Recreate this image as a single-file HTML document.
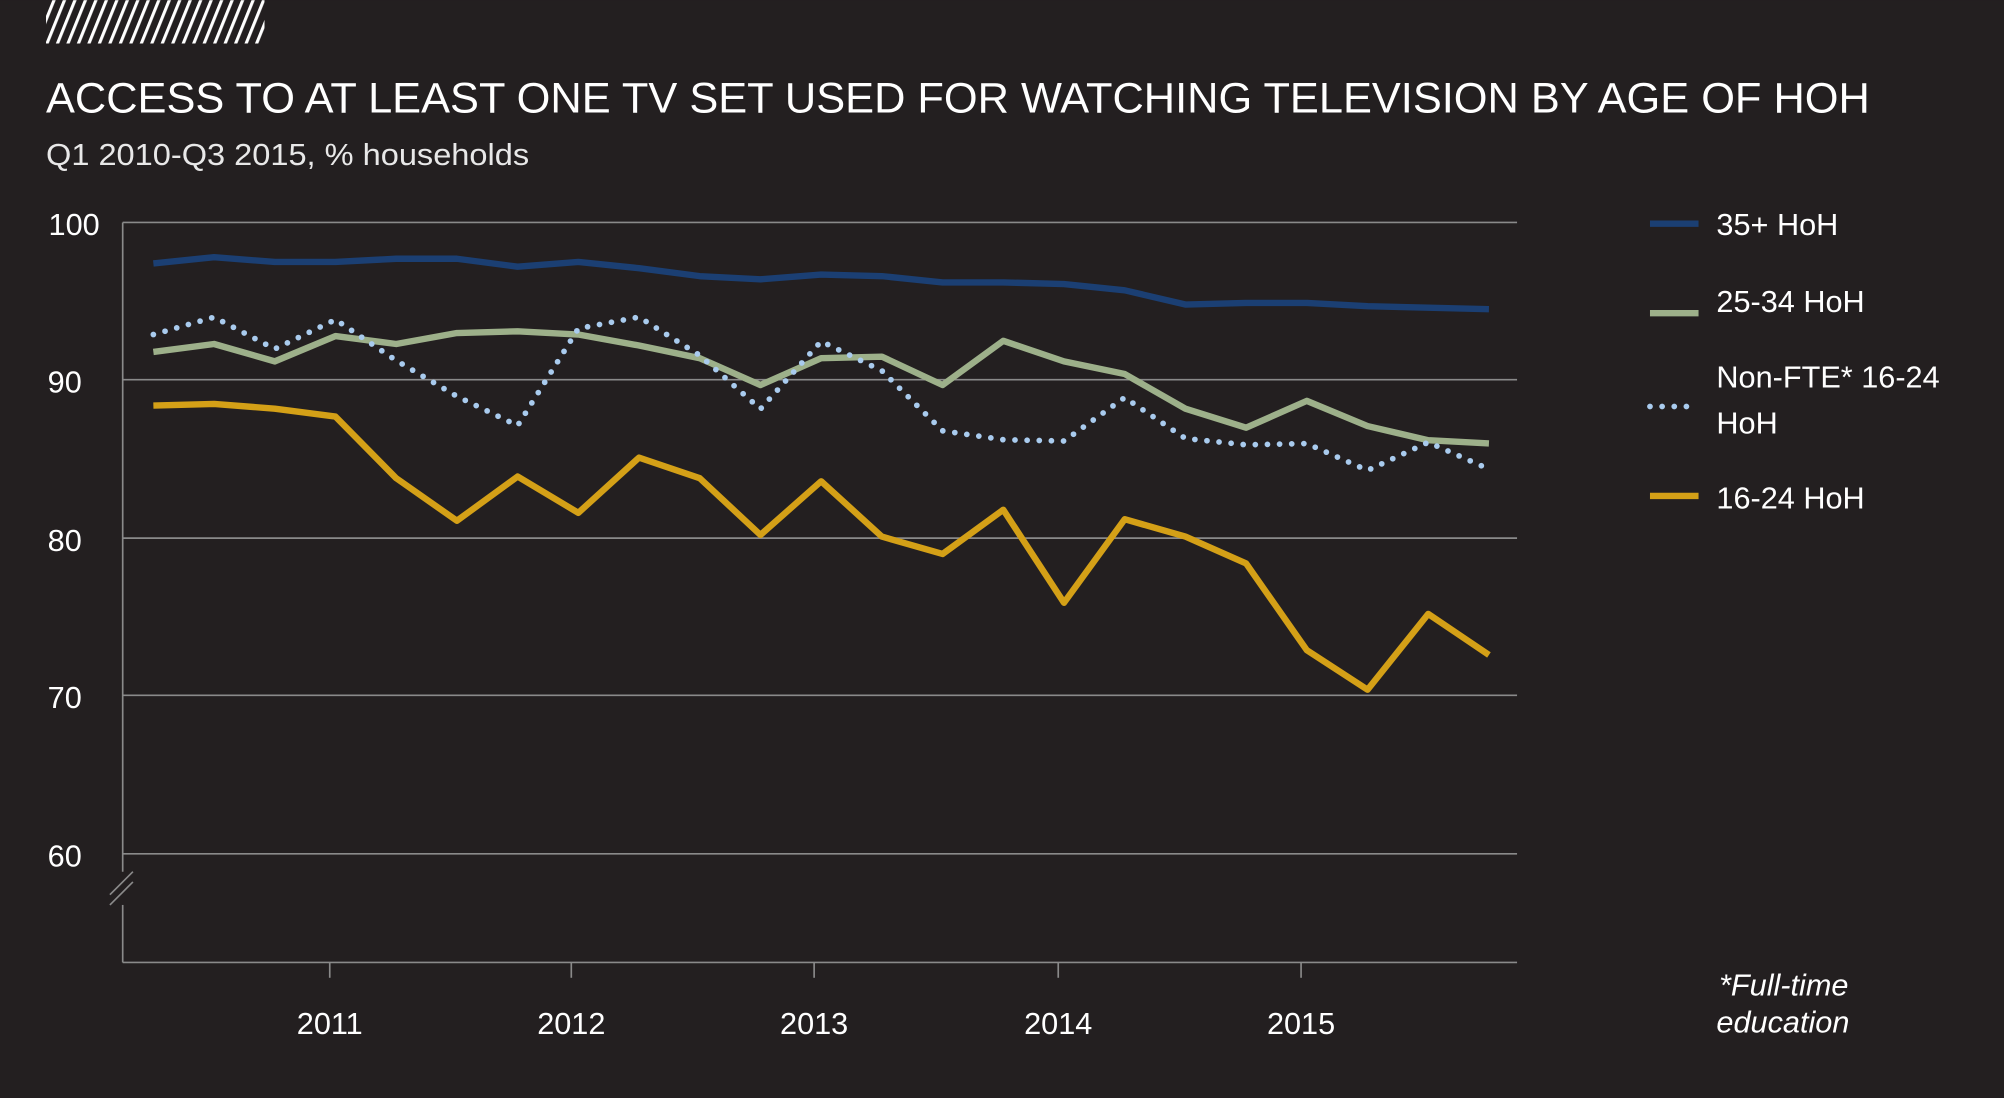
<!DOCTYPE html>
<html><head><meta charset="utf-8"><style>
html,body{margin:0;padding:0;background:#231f20;}
svg{display:block;}
text{font-family:"Liberation Sans",sans-serif;}
</style></head><body>
<svg width="2004" height="1098" viewBox="0 0 1568 859" xmlns="http://www.w3.org/2000/svg">
<defs>
<pattern id="h" width="8.2" height="34" patternUnits="userSpaceOnUse" patternTransform="skewX(-22)">
<rect x="0" y="0" width="2.6" height="34" fill="#fff"/>
</pattern>
<clipPath id="hc"><rect x="36" y="0" width="171" height="34"/></clipPath>
</defs>
<rect width="1568" height="859" fill="#231f20"/>
<rect x="36" y="0" width="171" height="34" fill="url(#h)" clip-path="url(#hc)"/>
<text x="36" y="88" font-size="33" fill="#fff" textLength="1427" lengthAdjust="spacingAndGlyphs">ACCESS TO AT LEAST ONE TV SET USED FOR WATCHING TELEVISION BY AGE OF HOH</text>
<text x="36" y="129" font-size="24" fill="#e8e8e8" textLength="378" lengthAdjust="spacingAndGlyphs">Q1 2010-Q3 2015, % households</text>
<g stroke="#8a8a8a" stroke-width="1.3">
<line x1="96" y1="174" x2="1187" y2="174"/>
<line x1="96" y1="297" x2="1187" y2="297"/>
<line x1="96" y1="421" x2="1187" y2="421"/>
<line x1="96" y1="544" x2="1187" y2="544"/>
<line x1="96" y1="668" x2="1187" y2="668"/>
<line x1="96" y1="753" x2="1187" y2="753"/>
<line x1="96" y1="174" x2="96" y2="682"/>
<line x1="96" y1="708" x2="96" y2="753"/>
<line x1="86" y1="700" x2="104" y2="682"/>
<line x1="86" y1="708" x2="104" y2="690"/>
<line x1="258" y1="753" x2="258" y2="765"/>
<line x1="447" y1="753" x2="447" y2="765"/>
<line x1="637" y1="753" x2="637" y2="765"/>
<line x1="828" y1="753" x2="828" y2="765"/>
<line x1="1018" y1="753" x2="1018" y2="765"/>
</g>
<g font-size="24" fill="#fff">
<text x="78" y="184" text-anchor="end">100</text>
<text x="64" y="307" text-anchor="end">90</text>
<text x="64" y="431" text-anchor="end">80</text>
<text x="64" y="554" text-anchor="end">70</text>
<text x="64" y="678" text-anchor="end">60</text>
<text x="258" y="809" text-anchor="middle">2011</text>
<text x="447" y="809" text-anchor="middle">2012</text>
<text x="637" y="809" text-anchor="middle">2013</text>
<text x="828" y="809" text-anchor="middle">2014</text>
<text x="1018" y="809" text-anchor="middle">2015</text>
</g>
<g fill="none" stroke-linejoin="round">
<polyline stroke="#1b3f73" stroke-width="5" points="120,206.1 167.5,201.2 215,204.9 262.5,204.9 310,202.4 357.5,202.4 405,208.6 452.5,204.9 500,209.8 547.5,216 595,218.5 642.5,214.8 690,216 737.5,220.9 785,220.9 832.5,222.2 880,227.1 927.5,238.2 975,237 1022.5,237 1070,239.5 1117.5,240.7 1165,241.9"/>
<polyline stroke="#9db08a" stroke-width="5" points="120,275.3 167.5,269.1 215,282.7 262.5,262.9 310,269.1 357.5,260.5 405,259.2 452.5,261.7 500,270.3 547.5,280.2 595,301.2 642.5,280.2 690,279 737.5,301.2 785,266.6 832.5,282.7 880,292.6 927.5,319.7 975,334.6 1022.5,313.6 1070,333.3 1117.5,344.4 1165,346.9"/>
<polyline stroke="#a9cbee" stroke-width="4.5" stroke-linecap="round" stroke-dasharray="0 9.5" points="120,261.7 167.5,248.1 215,273 262.5,250 310,282 357.5,310 405,333 452.5,257 500,248 547.5,278 595,320 642.5,267 690,290 737.5,337 785,344 832.5,345 880,311 927.5,343 975,348 1022.5,347 1070,368 1117.5,346 1165,367"/>
<polyline stroke="#d4a017" stroke-width="5" points="120,317.3 167.5,316 215,319.7 262.5,325.9 310,374.1 357.5,407.4 405,372.8 452.5,401.2 500,358 547.5,374.1 595,418.5 642.5,376.5 690,419.8 737.5,433.4 785,398.8 832.5,471.6 880,406.2 927.5,419.8 975,440.8 1022.5,508.7 1070,539.6 1117.5,480.3 1165,512.4"/>
</g>
<g stroke-width="5">
<line x1="1291" y1="175" x2="1329" y2="175" stroke="#1b3f73"/>
<line x1="1291" y1="245" x2="1329" y2="245" stroke="#9db08a"/>
<line x1="1291" y1="318" x2="1329" y2="318" stroke="#a9cbee" stroke-linecap="round" stroke-dasharray="0 9.5" stroke-width="4.5"/>
<line x1="1291" y1="388" x2="1329" y2="388" stroke="#d4a017"/>
</g>
<g font-size="24" fill="#fff">
<text x="1343" y="184">35+ HoH</text>
<text x="1343" y="244">25-34 HoH</text>
<text x="1343" y="303">Non-FTE* 16-24</text>
<text x="1343" y="339">HoH</text>
<text x="1343" y="398">16-24 HoH</text>
<text x="1345" y="779" font-style="italic">*Full-time</text>
<text x="1343" y="808" font-style="italic">education</text>
</g>
</svg>
</body></html>
